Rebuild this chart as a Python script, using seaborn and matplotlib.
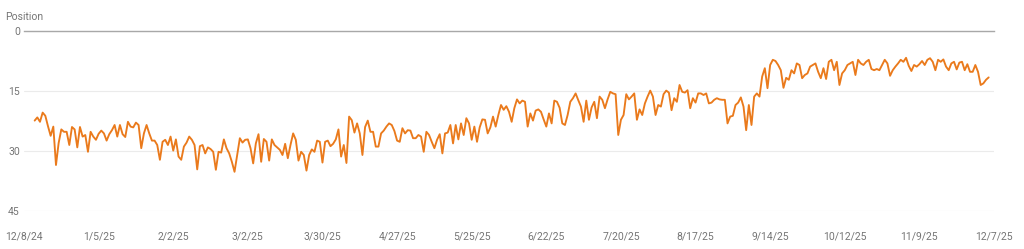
import numpy as np
import pandas as pd
import matplotlib
matplotlib.use("Agg")
import matplotlib.pyplot as plt
import seaborn as sns

# ---- data: average position per day ----
first_day = "2024-12-12"
pos_dec_feb = [22.4, 21.6, 22.7, 20.4, 21.2, 23.8, 26.2, 23.9, 33.5, 28.0, 24.6, 25.2, 25.2, 28.5, 24.0, 24.6,
               29.1, 24.0, 26.4, 26.0, 30.2, 25.2, 26.4, 27.2, 25.7, 24.9,
               25.6, 27.4, 25.8, 24.8, 23.5, 26.4, 23.5, 25.8, 26.5, 22.7, 23.9, 24.1, 22.9, 23.5, 29.3, 25.6,
               23.5, 25.6, 27.4, 27.4, 28.5, 32.2, 27.7, 27.2, 28.5, 26.4, 29.9, 27.1, 31.4, 32.2, 28.9,
               27.9, 26.4, 27.2, 28.5, 34.6, 28.8, 28.5, 30.6, 29.1, 29.5, 30.2, 34.7, 30.2, 30.4, 27.1, 29.3,
               30.6, 32.7, 35.2, 31.0, 26.8, 27.9, 27.2, 27.1, 29.3, 33.1, 28.1, 25.8, 32.7, 27.0, 27.7]
pos_mar_may = [32.4, 27.1, 28.5, 29.1, 29.7, 31.0, 28.2, 31.8, 28.5, 25.6, 27.2, 32.4, 30.2, 31.0, 34.9, 31.0,
               29.6, 30.2, 27.4, 27.7, 32.9, 27.7, 27.4, 28.8, 28.2, 27.1, 24.6, 31.4, 28.5, 33.0, 21.4,
               22.3, 25.4, 23.1, 25.6, 31.0, 24.0, 22.4, 25.2, 25.2, 28.9, 28.9, 25.6, 24.9, 23.9, 23.1, 23.5,
               25.0, 27.4, 27.7, 24.3, 25.6, 24.8, 24.9, 26.8, 26.8, 26.0, 26.4, 30.2, 25.2, 26.0, 27.7,
               29.3, 27.2, 25.8, 30.6, 25.6, 25.4, 23.5, 28.1, 23.5, 27.1, 23.1, 26.0, 21.8, 23.1, 27.2, 23.9,
               27.7, 24.1, 22.1, 22.2, 25.6, 24.1, 21.4, 23.9, 21.0, 18.5, 19.7, 18.8, 20.2, 22.7, 19.3]
pos_jun_aug = [17.1, 18.1, 17.4, 17.7, 23.9, 20.6, 22.4, 19.9, 19.6, 20.2, 22.1, 23.9, 20.6, 23.1, 17.4, 17.7,
               19.2, 23.1, 23.5, 21.0, 17.7, 16.8, 15.6, 17.3, 18.9, 22.7, 17.4, 22.2, 19.1, 17.7, 21.8,
               16.4, 17.2, 19.3, 17.1, 15.2, 15.6, 15.8, 26.0, 22.2, 21.0, 15.8, 17.1, 16.4, 15.6, 22.2, 19.6,
               21.0, 18.1, 16.4, 14.9, 16.4, 21.0, 18.5, 18.9, 15.8, 14.9, 15.4, 19.8, 16.8, 17.7, 13.5,
               15.2, 15.4, 14.8, 19.3, 16.8, 17.9, 15.6, 15.6, 16.0, 15.6, 18.1, 17.9, 17.2, 16.8, 17.1, 17.2,
               17.2, 23.1, 21.4, 21.2, 18.5, 17.9, 16.6, 18.9, 24.8, 18.5, 23.5, 16.4, 15.6, 16.4, 11.4, 9.3]
pos_sep_dec = [14.3, 8.5, 7.2, 7.5, 8.5, 9.8, 14.2, 11.7, 12.2, 9.8, 10.6, 8.1, 8.5, 11.8, 11.0, 10.6,
               8.9, 8.5, 8.1, 10.2, 11.8, 9.3, 12.0, 7.7, 7.2, 9.8, 7.7, 13.5, 10.6, 9.8, 8.5,
               8.1, 7.7, 11.0, 7.2, 8.1, 8.5, 7.7, 7.2, 9.5, 9.8, 9.5, 9.8, 8.5, 7.2, 8.1, 11.2,
               9.8, 8.9, 8.1, 7.2, 7.7, 6.7, 8.7, 10.0, 8.5, 8.9, 8.3, 7.5, 8.5, 7.2, 6.8,
               7.7, 9.8, 7.2, 7.7, 7.1, 8.9, 9.8, 8.1, 7.7, 9.6, 7.9, 7.7, 9.8, 8.3, 10.2, 10.2,
               8.5, 10.2, 13.5, 13.1, 12.2, 11.6]

y_ticks = [0, 15, 30, 45]
x_tick_start = "2024-12-08"
x_tick_count = 14
x_tick_step_days = 28
y_label = "Position"

# ---- build frame ----
values = pos_dec_feb + pos_mar_may + pos_jun_aug + pos_sep_dec
df = pd.DataFrame({
    "date": pd.date_range(first_day, periods=len(values), freq="D"),
    "position": values,
})
tick_dates = pd.date_range(x_tick_start, periods=x_tick_count, freq=f"{x_tick_step_days}D")

# ---- style ----
sns.set_theme(style="white")
plt.rcParams["font.family"] = ["Roboto", "DejaVu Sans"]

W, H = 1024, 249
fig = plt.figure(figsize=(W / 100, H / 100), dpi=100)
ax = fig.add_axes([24 / W, 1 - 211 / H, (994 - 24) / W, (211 - 31) / H])

sns.lineplot(data=df, x="date", y="position", ax=ax, color="#ea7a1c", linewidth=1.35)

ax.set_xlim(tick_dates[0], tick_dates[-1])
ax.set_ylim(y_ticks[-1], y_ticks[0])
ax.set_yticks(y_ticks)
ax.set_yticklabels([str(t) for t in y_ticks])
ax.set_xticks(tick_dates)
ax.set_xticklabels([f"{d.month}/{d.day}/{d.year % 100}" for d in tick_dates])

ax.grid(axis="y", color="#ebebeb", linewidth=0.8)
ax.grid(axis="x", visible=False)
for side in ["left", "right", "bottom"]:
    ax.spines[side].set_visible(False)
ax.spines["top"].set_visible(True)
ax.spines["top"].set_color("#a8a8a8")
ax.spines["top"].set_linewidth(1.0)

ax.tick_params(axis="y", length=0, pad=3, labelsize=7.5, labelcolor="#757575")
ax.tick_params(axis="x", length=0, pad=15, labelsize=7.5, labelcolor="#757575")
ax.set_xlabel("")
ax.set_ylabel("")

fig.text(5 / W, 1 - 17 / H, y_label, fontsize=7.5, color="#757575", va="center", ha="left")

fig.savefig("out.png", dpi=100)
